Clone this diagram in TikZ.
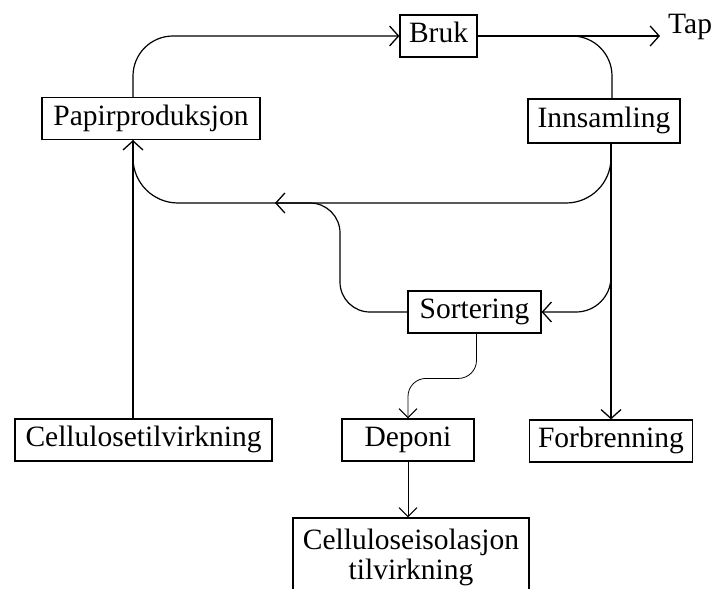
\documentclass[tikz,border=0pt]{standalone}
\usepackage{fontspec}
\setmainfont{Liberation Serif}
\usepackage{tikz}
\usetikzlibrary{arrows.meta}
\tikzset{>={Straight Barb[length=9pt,width=20pt,line width=1.3pt]}}
\tikzset{boks/.style={draw,line width=1.2pt,inner sep=0pt,minimum height=42pt,
    text height=20pt,text depth=7pt},
  pil/.style={-{Straight Barb[length=9pt,width=20pt,line width=1.3pt]},line width=1.2pt},
  tynn/.style={-{Straight Barb[length=9pt,width=18pt,line width=1pt]},line width=0.8pt}}

\begin{document}
\begin{tikzpicture}[x=1pt,y=-1pt,font=\fontsize{29.5}{30}\selectfont]
      \useasboundingbox (0,0) rectangle (715,589);
      % boksene
      \node[boks,minimum width=218] at (151,118.5) (pap) {Papirproduksjon};
      \node[boks,minimum width=77]  at (438.5,36)  (bruk) {Bruk};
      \node[boks,minimum width=152,minimum height=44] at (604,121) (inn) {Innsamling};
      \node[boks,minimum width=133] at (474.5,312) (sort) {Sortering};
      \node[boks,minimum width=257] at (143.5,440) (cell) {Cellulosetilvirkning};
      \node[boks,minimum width=132] at (408,440)   (dep) {Deponi};
      \node[boks,minimum width=163] at (611,441)   (forb) {Forbrenning};
      \node[draw,line width=1.2pt,minimum width=236,minimum height=78,align=center,inner sep=0pt]
           at (411,557) (iso) {Celluloseisolasjon\\tilvirkning};
      \node[anchor=base west,inner sep=2pt] at (666,33) (tap) {Tap};
      \coordinate (retpil) at (275,203);
      \coordinate (sortknekk) at (340,203);
      % piler
      \draw[pil] ([xshift=-10.5pt]cell.north) -- ([xshift=-18pt]pap.south);
      \draw[pil,rounded corners=40pt] ([xshift=-18pt]pap.north) |- (bruk.west);
      \draw[pil] (bruk.east) -- ([xshift=-6pt]tap.west |- bruk.east);
      \draw[line width=1.2pt,rounded corners=40pt] (bruk.east) -| ([xshift=8pt]inn.north);
      \draw[pil,rounded corners=45pt] ([xshift=7pt]inn.south) |- (retpil);
      \draw[line width=1.2pt,rounded corners=45pt] (retpil) -| ([xshift=-18pt]pap.south);
      \draw[line width=1.2pt,rounded corners=30pt] (sort.west) -| (sortknekk) -- (retpil);
      \draw[pil,rounded corners=35pt] ([xshift=7pt]inn.south) |- (sort.east);
      \draw[pil] ([xshift=7pt]inn.south) -- (forb.north);
      \draw[tynn,rounded corners=18pt] ([xshift=2pt]sort.south) |- ([yshift=40pt]dep.north) -- (dep.north);
      \draw[tynn] (dep.south) -- (dep.south |- iso.north);
\end{tikzpicture}
\end{document}
